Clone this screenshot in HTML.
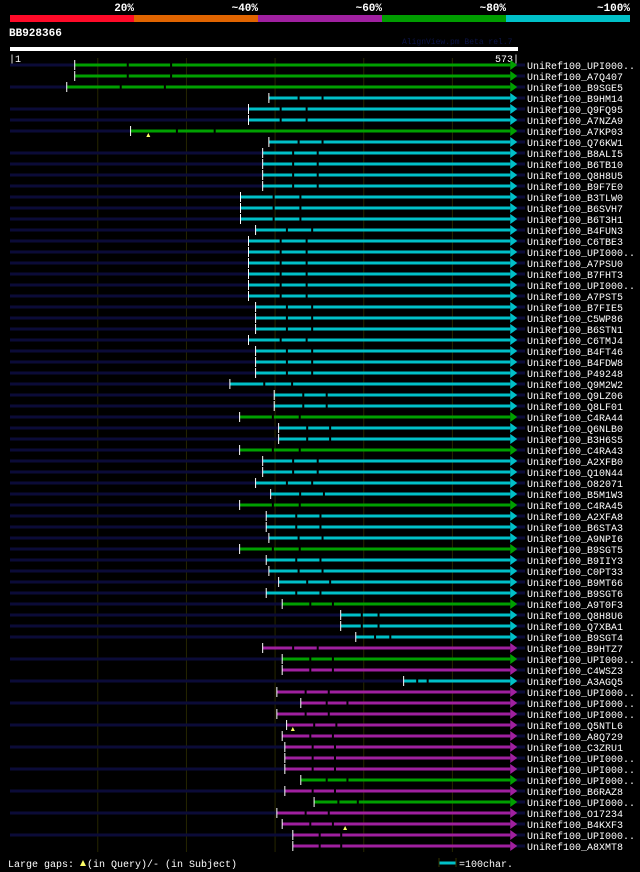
<!DOCTYPE html>
<html><head><meta charset="utf-8">
<style>
html,body{margin:0;padding:0;background:#000;}
svg{display:block;}
text{font-family:"Liberation Mono",monospace;}
</style></head>
<body>
<svg id="chart" width="640" height="872" viewBox="0 0 640 872" xmlns="http://www.w3.org/2000/svg">
  <g>
    <rect x="10" y="15" width="124" height="7" fill="#ff0a28"/>
    <rect x="134" y="15" width="124" height="7" fill="#e06400"/>
    <rect x="258" y="15" width="124" height="7" fill="#a020a0"/>
    <rect x="382" y="15" width="124" height="7" fill="#009c00"/>
    <rect x="506" y="15" width="124" height="7" fill="#00c0c8"/>
    <g font-size="11" font-weight="bold" fill="#fff" text-anchor="end">
      <text x="134" y="11">20%</text>
      <text x="258" y="11">~40%</text>
      <text x="382" y="11">~60%</text>
      <text x="506" y="11">~80%</text>
      <text x="630" y="11">~100%</text>
    </g>
  </g>
  <text x="9" y="36" font-size="11" font-weight="bold" fill="#fff">BB928366</text>
  <text x="402" y="44" font-size="8" fill="#0c1448">AlignView.pm Beta rel.7</text>
  <rect x="10" y="47" width="508" height="4" fill="#fff"/>
  <text x="9" y="62" font-size="10" fill="#fff">|1</text>
  <text x="519" y="62" font-size="10" fill="#fff" text-anchor="end">573|</text>
  <g id="grid"></g>
  <g id="rows"></g>
  <g>
    <text x="8" y="867" font-size="10" fill="#fff">Large gaps:</text>
    <polygon points="80,866 83,860 86,866" fill="#ffff66"/>
    <text x="87" y="867" font-size="10" fill="#fff">(in Query)/- (in Subject)</text>
    <line x1="439" y1="863" x2="456" y2="863" stroke="#00c0c8" stroke-width="3"/>
    <line x1="439" y1="858" x2="439" y2="867" stroke="#333300"/>
    <line x1="456" y1="858" x2="456" y2="867" stroke="#333300"/>
    <text x="459" y="867" font-size="10" fill="#fff">=100char.</text>
  </g>
</svg>
<script>
const labels = ["UniRef100_UPI000..","UniRef100_A7Q407","UniRef100_B9SGE5","UniRef100_B9HM14","UniRef100_Q9FQ95","UniRef100_A7NZA9","UniRef100_A7KP03","UniRef100_Q76KW1","UniRef100_B8ALI5","UniRef100_B6TB10","UniRef100_Q8H8U5","UniRef100_B9F7E0","UniRef100_B3TLW0","UniRef100_B6SVH7","UniRef100_B6T3H1","UniRef100_B4FUN3","UniRef100_C6TBE3","UniRef100_UPI000..","UniRef100_A7PSU0","UniRef100_B7FHT3","UniRef100_UPI000..","UniRef100_A7PST5","UniRef100_B7FIE5","UniRef100_C5WP86","UniRef100_B6STN1","UniRef100_C6TMJ4","UniRef100_B4FT46","UniRef100_B4FDW8","UniRef100_P49248","UniRef100_Q9M2W2","UniRef100_Q9LZ06","UniRef100_Q8LF01","UniRef100_C4RA44","UniRef100_Q6NLB0","UniRef100_B3H6S5","UniRef100_C4RA43","UniRef100_A2XFB0","UniRef100_Q10N44","UniRef100_O82071","UniRef100_B5M1W3","UniRef100_C4RA45","UniRef100_A2XFA8","UniRef100_B6STA3","UniRef100_A9NPI6","UniRef100_B9SGT5","UniRef100_B9IIY3","UniRef100_C0PT33","UniRef100_B9MT66","UniRef100_B9SGT6","UniRef100_A9T0F3","UniRef100_Q8H8U6","UniRef100_Q7XBA1","UniRef100_B9SGT4","UniRef100_B9HTZ7","UniRef100_UPI000..","UniRef100_C4WSZ3","UniRef100_A3AGQ5","UniRef100_UPI000..","UniRef100_UPI000..","UniRef100_UPI000..","UniRef100_Q5NTL6","UniRef100_A8Q729","UniRef100_C3ZRU1","UniRef100_UPI000..","UniRef100_UPI000..","UniRef100_UPI000..","UniRef100_B6RAZ8","UniRef100_UPI000..","UniRef100_O17234","UniRef100_B4KXF3","UniRef100_UPI000..","UniRef100_A8XMT8"];
const hitStarts = [74,74,65,293,270,270,137,293,286,286,286,286,261,261,261,278,270,270,270,270,270,270,278,278,278,270,278,278,278,249,299,299,260,304,304,260,286,286,278,295,260,290,290,293,260,290,293,304,290,308,374,374,391,286,308,308,445,302,329,302,313,308,311,311,311,329,311,344,302,308,320,320];
const hitEnd = 563;
const identityClass = ["g","g","g","c","c","c","g","c","c","c","c","c","c","c","c","c","c","c","c","c","c","c","c","c","c","c","c","c","c","c","c","c","g","c","c","g","c","c","c","c","g","c","c","c","g","c","c","c","c","g","c","c","c","m","g","m","c","m","m","m","m","m","m","m","m","g","m","g","m","m","m","m"];
const hasSubjectLeft = [1,0,1,0,1,1,1,0,1,1,1,1,1,1,1,1,1,1,1,1,1,1,1,1,1,1,1,1,1,1,1,1,1,1,1,1,1,1,1,1,1,1,1,1,1,1,1,1,1,1,1,1,1,0,1,0,1,0,1,0,1,0,1,0,1,0,1,0,1,0,1,0];
const queryGapRows = [6,60,69];
const queryGapPos = [157,320,379];
const gridTicks = [100,200,300,400,500];

const NS = "http://www.w3.org/2000/svg";
const x0 = 10, pxPerChar = 508/573;
const xs = p => x0 + (p - 1) * pxPerChar;
const rowY = i => 65 + i * 11;
const colors = {g:"#00a000", c:"#00c0c8", m:"#a020a0"};
function mk(tag, attrs, parent){ const e=document.createElementNS(NS,tag); for(const k in attrs) e.setAttribute(k,attrs[k]); parent.appendChild(e); return e; }

const grid = document.getElementById('grid');
gridTicks.forEach(t=>{
  const l = mk('line',{x1:xs(t),x2:xs(t),y1:58,y2:852,stroke:"#262600","stroke-width":1},grid);
  
  
});

const rows = document.getElementById('rows');
labels.forEach((lab,i)=>{
  const y = rowY(i);
  const g = mk('g',{},rows);
  
  
  const sx = xs(hitStarts[i]), ex = xs(hitEnd), col = colors[identityClass[i]];
  if(hasSubjectLeft[i]) {
    const s = mk('line',{x1:10,x2:sx,y1:y,y2:y,stroke:"#0b0b38","stroke-width":3},g);
    
    
  }
  const s2 = mk('line',{x1:ex,x2:525,y1:y,y2:y,stroke:"#0b0b38","stroke-width":3},g);
  
  
  const h = mk('line',{x1:sx,x2:ex+2,y1:y,y2:y,stroke:col,"stroke-width":3},g);
  
  
  [0.12,0.22].forEach(f=>{
    const gx = sx + (ex - sx) * f;
    const gp = mk('rect',{x:gx,y:y-2,width:2,height:4,fill:"#000"},g);
    
    
  });
  const a = mk('polygon',{points:`${ex+2},${y-5} ${ex+9},${y} ${ex+2},${y+5}`,fill:col},g);
  
  
  const t = mk('line',{x1:sx,x2:sx,y1:y-5,y2:y+5,stroke:"#fff","stroke-width":1},g);
  
  
  const tx = mk('text',{x:527,y:y+4,"font-size":"10",fill:"#fff"},g);
  tx.textContent = lab;
  
  
});
queryGapRows.forEach((r,k)=>{
  const px = xs(queryGapPos[k]), y = rowY(r);
  const tr = mk('polygon',{points:`${px-2},${y+6} ${px},${y+2} ${px+2},${y+6}`,fill:"#ffff66"},rows);
  
  
});
</script>
</body></html>
